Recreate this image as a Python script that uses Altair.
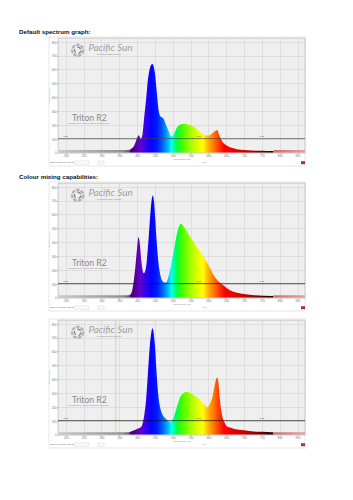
import altair as alt
import pandas as pd

# ---------------- data ----------------
section_titles = ["Default spectrum graph:", "Colour mixing capabilities:"]

wl1 = [178, 200, 250, 300, 350, 370, 380, 385, 390, 395, 400, 405, 410, 415, 420, 425, 430, 435, 440, 443,
       445, 450, 455, 460, 465, 470, 475, 480, 485, 490, 495, 500, 505, 510, 515, 520, 530, 540, 550, 560,
       570, 580, 590, 600, 610, 615, 620, 625, 630, 635, 640, 650, 660, 670, 680, 700, 720, 750, 780, 785,
       800, 850, 871]
int1 = [18, 18, 18, 18, 18, 18, 20, 30, 42, 70, 105, 124, 98, 130, 260, 380, 520, 600, 635, 640,
        632, 570, 440, 310, 262, 252, 240, 206, 175, 142, 115, 120, 145, 172, 192, 200, 208, 206, 198, 182,
        164, 140, 122, 122, 138, 148, 158, 162, 125, 100, 76, 52, 38, 30, 24, 18, 14, 12, 10, 18,
        18, 18, 18]

wl2 = [178, 200, 250, 300, 350, 370, 380, 385, 390, 395, 400, 404, 408, 412, 418, 422, 427, 432, 437, 441,
       444, 447, 451, 455, 460, 465, 470, 476, 480, 485, 490, 495, 500, 505, 510, 515, 520, 523, 530, 540,
       550, 560, 570, 580, 590, 600, 610, 620, 630, 640, 650, 660, 680, 700, 730, 780, 785, 800, 850, 871]
int2 = [16, 16, 16, 16, 16, 16, 20, 40, 110, 220, 360, 437, 380, 260, 175, 185, 260, 420, 600, 710,
        737, 700, 560, 400, 250, 165, 122, 108, 108, 125, 170, 230, 300, 370, 440, 495, 528, 534, 515, 475,
        435, 395, 355, 320, 280, 235, 185, 140, 112, 92, 70, 52, 35, 25, 17, 11, 16, 16, 16, 16]

wl3 = [178, 200, 250, 300, 350, 370, 380, 390, 400, 410, 415, 420, 425, 430, 435, 440, 443, 446, 450, 455,
       460, 465, 470, 480, 490, 495, 500, 505, 510, 515, 520, 530, 540, 550, 560, 570, 580, 590, 597, 605,
       610, 615, 620, 625, 628, 632, 636, 640, 645, 650, 660, 670, 700, 720, 750, 780, 785, 800, 850, 871]
int3 = [16, 16, 16, 16, 16, 16, 18, 28, 40, 52, 75, 140, 250, 430, 620, 740, 768, 740, 640, 430,
        270, 190, 150, 115, 92, 88, 110, 145, 185, 230, 268, 298, 308, 298, 282, 265, 240, 212, 196, 225,
        260, 320, 385, 412, 380, 260, 170, 120, 88, 64, 50, 42, 30, 24, 19, 16, 16, 16, 16, 16]

threshold = [100]
marker_nm = [200, 573, 750]
green_marker = [340]

x_ticks = list(range(200, 851, 50))
y_ticks = list(range(0, 801, 100))
X_DOMAIN = [178, 871]
Y_DOMAIN = [0, 827]

# spectrum colour stops (wavelength -> colour)
stop_nm = [178, 360, 378, 382, 395, 408, 422, 438, 455, 468, 480, 490, 496, 503, 512, 525, 550, 575, 585,
           600, 615, 628, 645, 680, 720, 760, 782, 782, 871]
stop_col = ["#cdc9cd", "#958b95", "#6a5a72", "#40006a", "#55009a", "#6400cc", "#3c00ee", "#0800ff",
            "#0018ff", "#0050ff", "#0090ff", "#00d0ff", "#00ffff", "#00ffa0", "#00ff40", "#40ff00",
            "#a0ff00", "#f0ff00", "#ffff00", "#ffb000", "#ff7800", "#ff4000", "#ff0000", "#e00000",
            "#b00000", "#500000", "#1a0000", "#d86a6a", "#e8a0a0"]

W, H = 247, 114.5
span = X_DOMAIN[1] - X_DOMAIN[0]
gradient = {
    "gradient": "linear", "x1": 0, "x2": 1, "y1": 0, "y2": 0,
    "stops": [{"offset": (n - X_DOMAIN[0]) / span, "color": c} for n, c in zip(stop_nm, stop_col)],
}

FONT = "Liberation Sans"


def one(t="x"):
    return pd.DataFrame({"t": [t]})


def label(txt, x, y, size, color="#777", align="left", baseline="middle", **kw):
    return alt.Chart(one(txt)).mark_text(
        align=align, baseline=baseline, fontSize=size, color=color, font=kw.pop("font", FONT), **kw
    ).encode(x=alt.value(x), y=alt.value(y), text="t:N")


def anchor(x, y):
    return alt.Chart(one()).mark_rule(color="white", strokeWidth=0.1).encode(
        x=alt.value(x), x2=alt.value(x + 0.3), y=alt.value(y), y2=alt.value(y + 0.3))


def axis(title, values):
    return alt.Axis(title=title, values=values, labelFontSize=2.9, titleFontSize=2.4, labelPadding=0.5,
                    titlePadding=0.5, tickSize=1.5, labelColor="#777", titleColor="#888",
                    titleFontWeight="normal", labelFont=FONT, titleFont=FONT,
                    labelOverlap=False, labelBound=False, labelFlush=False)


AX_X = axis("Wavelength (nm)", x_ticks)
AX_Y = axis("Intensity (a.u.)", y_ticks)
SC_X = alt.Scale(domain=X_DOMAIN, nice=False, zero=False)
SC_Y = alt.Scale(domain=Y_DOMAIN, nice=False, zero=True)


def X(f="nm:Q"):
    return alt.X(f, scale=SC_X, axis=AX_X)


def Y(f="v:Q"):
    return alt.Y(f, scale=SC_Y, axis=AX_Y)


def panel(wl, vals, title=None, green=False, rule_color="#111", top_anchor=False):
    df = pd.DataFrame({"nm": wl, "v": vals})
    layers = [anchor(-57, -37 if top_anchor else 50)]
    # software window frame
    layers.append(alt.Chart(one()).mark_rect(fill="white", fillOpacity=0, stroke="#cfcfcf",
                                             strokeWidth=0.5).encode(
        x=alt.value(-9), x2=alt.value(W), y=alt.value(-1), y2=alt.value(128)))
    layers.append(alt.Chart(df).mark_area(fill=gradient, interpolate="monotone").encode(x=X(), y=Y()))
    if green:
        layers.append(alt.Chart(pd.DataFrame({"nm": green_marker})).mark_rule(
            color="#9ee09e", strokeWidth=0.8).encode(x=X()))
    layers.append(alt.Chart(pd.DataFrame({"v": threshold})).mark_rule(
        color=rule_color, strokeWidth=0.7).encode(y=Y()))
    layers.append(alt.Chart(pd.DataFrame({"nm": marker_nm, "v": [100] * 3, "t": ["1.00"] * 3}))
                  .mark_text(fontSize=2.4, color="#333", baseline="bottom", dy=-0.3, font=FONT)
                  .encode(x=X(), y=Y(), text="t:N"))
    # logo
    layers.append(alt.Chart(one()).mark_point(shape="circle", filled=False, size=120, color="#9a9a9a",
                                              strokeWidth=2.4, strokeDash=[3.5, 1.2]).encode(
        x=alt.value(19.7), y=alt.value(12.3)))
    layers.append(alt.Chart(one()).mark_point(shape="circle", filled=False, size=40, color="#5a5a66",
                                              strokeWidth=1.2, strokeDash=[4, 3]).encode(
        x=alt.value(19.7), y=alt.value(12.3)))
    layers.append(label("Pacific Sun", 30.5, 10, 9.8, color="#a0a0a0", fontStyle="italic", font="Lato"))
    layers.append(label("Advanced LED Lighting", 38, 16, 2.4, color="#888"))
    layers.append(label("Triton R2", 14, 79.5, 8.6, color="#8a8a8a", font="Lato"))
    layers.append(label("Measured by Pacific Sun spectrometer", 10, 85, 2.4, color="#8a8aa8"))
    # status bar
    layers.append(label("Scan:  0000000   Log   0000000", -8, 124.5, 2.4, color="#666"))
    layers.append(alt.Chart(one()).mark_rect(fill="white", stroke="#aaa", strokeWidth=0.3).encode(
        x=alt.value(16), x2=alt.value(31), y=alt.value(123), y2=alt.value(126)))
    layers.append(alt.Chart(one()).mark_rect(fill="white", stroke="#aaa", strokeWidth=0.3).encode(
        x=alt.value(40), x2=alt.value(46), y=alt.value(123), y2=alt.value(126)))
    layers.append(label("7.0", 145, 124.5, 2.4, color="#666"))
    layers.append(alt.Chart(one()).mark_rect(fill="#b03030").encode(
        x=alt.value(243), x2=alt.value(247), y=alt.value(123.2), y2=alt.value(126.2)))
    if title:
        layers.append(label(title, -39, -9.25, 6.2, color="#111", baseline="top",
                            fontWeight="bold"))
    return alt.layer(*layers).properties(width=W, height=H)


p1 = panel(wl1, int1, title=section_titles[0], rule_color="#444", top_anchor=True)
p2 = panel(wl2, int2, title=section_titles[1])
p3 = panel(wl3, int3, green=True)

chart = alt.vconcat(p1, p2, p3, spacing=6).properties(
    padding={"left": 0, "top": 0, "right": 0, "bottom": 0}
).configure(background="white").configure_view(
    fill="#efefef", stroke="#aaaaaa", strokeWidth=0.6
).configure_axis(
    gridColor="#d2d2d2", gridWidth=0.6, domain=False, tickColor="#999", tickWidth=0.5
)

chart.save("out.html", embed_options={"renderer": "svg", "actions": False})
